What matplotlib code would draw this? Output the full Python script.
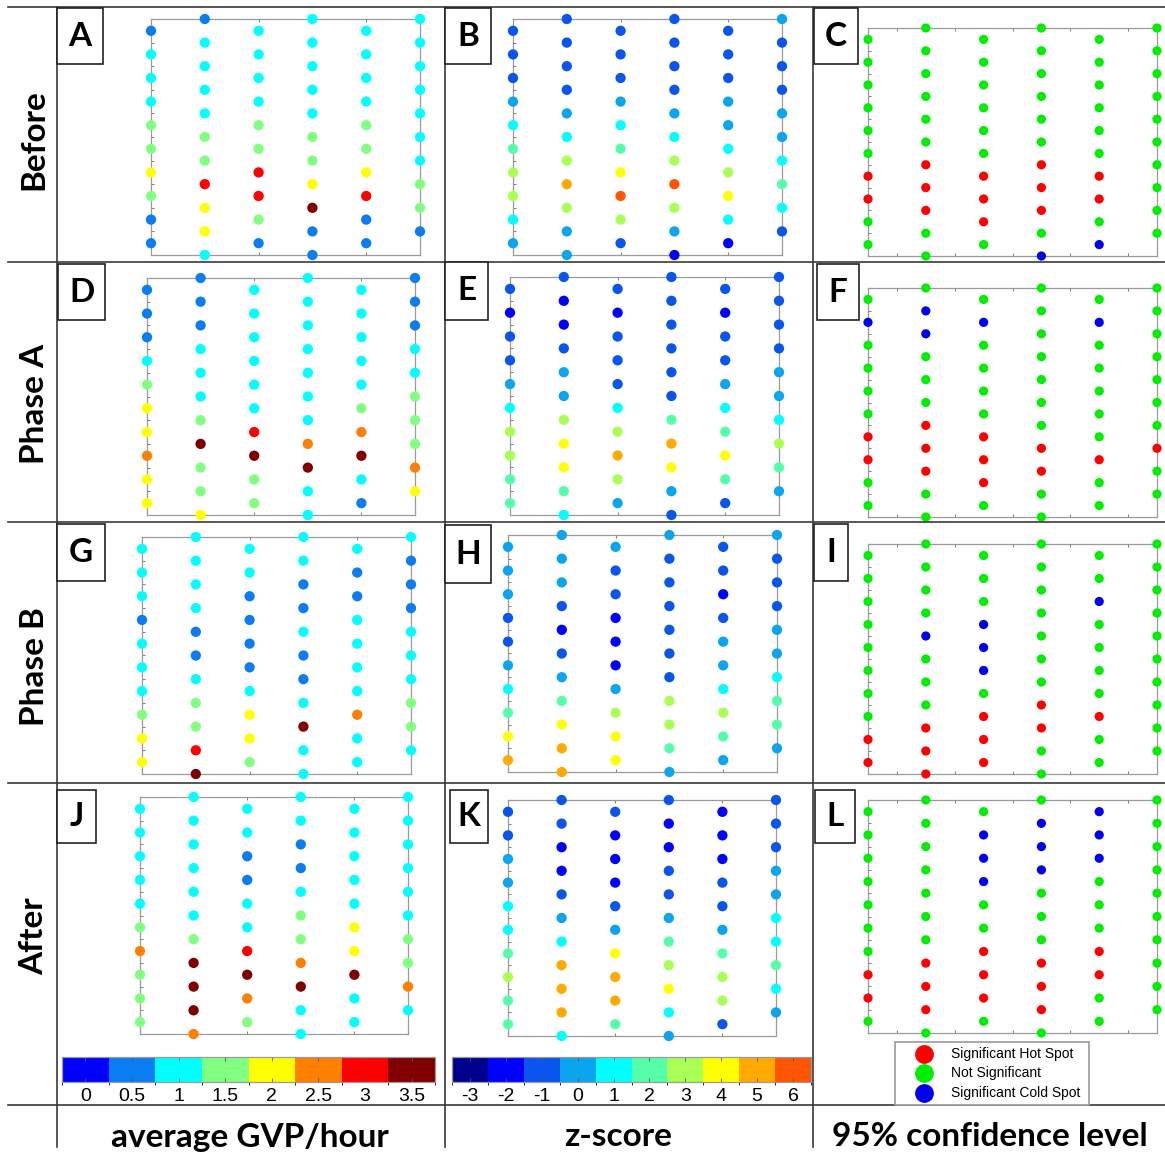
import matplotlib
matplotlib.use("Agg")
import matplotlib.pyplot as plt
import matplotlib.cm as cm
from matplotlib.colors import ListedColormap, BoundaryNorm
from matplotlib.lines import Line2D
from matplotlib.patches import Rectangle
import numpy as np

W, H = 1165, 1164

# --- station values, six transects per panel, listed top to bottom ---
# average GVP/hour
before_gvp = [
    [0.5, 1, 1, 1, 1.5, 1.5, 2, 1.5, 0.5, 0.5],
    [0.5, 1, 1, 1, 1, 1.5, 1.5, 3, 2, 2, 1],
    [1, 1, 1, 1, 1.5, 1.5, 3, 3, 1.5, 0.5],
    [1, 1, 1, 1, 1, 1.5, 1.5, 2, 3.5, 0.5, 0.5],
    [1, 1, 1, 1, 1.5, 1.5, 2, 3, 0.5, 0.5],
    [1, 1, 1, 1, 1, 1, 1, 1.5, 1.5, 0.5],
]
phase_a_gvp = [
    [0.5, 0.5, 0.5, 1, 1.5, 2, 2, 2.5, 2, 2],
    [0.5, 0.5, 0.5, 1, 1, 1, 1.5, 3.5, 1.5, 1.5, 2],
    [1, 1, 1, 1, 1, 1, 3, 3.5, 1.5, 1.5],
    [1, 1, 1, 1, 1, 1, 1, 2.5, 3.5, 1, 1],
    [1, 1, 1, 1, 1, 1.5, 2.5, 3.5, 1, 0.5],
    [0.5, 0.5, 0.5, 1, 1, 1.5, 1.5, 1.5, 2.5, 2],
]
phase_b_gvp = [
    [1, 1, 1, 0.5, 1, 1, 1, 1.5, 2, 2],
    [1, 1, 1, 1, 0.5, 0.5, 1, 1.5, 1.5, 3, 3.5],
    [1, 1, 0.5, 0.5, 0.5, 0.5, 1, 2, 2, 1.5],
    [1, 1, 0.5, 0.5, 1, 0.5, 0.5, 1, 3.5, 1, 1],
    [1, 0.5, 0.5, 1, 1, 1, 1, 2.5, 1, 1],
    [1, 0.5, 0.5, 0.5, 1, 1, 1, 1.5, 1.5, 1],
]
after_gvp = [
    [1, 1, 1, 1, 1, 1.5, 2.5, 1.5, 1.5, 1.5],
    [1, 1, 1, 1, 1, 1, 1.5, 3.5, 3.5, 3.5, 2.5],
    [1, 1, 0.5, 0.5, 1, 1, 3, 3.5, 2.5, 1.5],
    [1, 1, 0.5, 0.5, 1, 1.5, 1.5, 2.5, 3.5, 1, 1],
    [1, 1, 1, 1, 1, 2, 2, 3.5, 1, 1],
    [1, 1, 1, 1, 1, 1, 1.5, 1.5, 2.5, 1],
]

# z-score
before_z = [
    [-1, -1, -1, 0, 1, 2, 3, 3, 1, 0],
    [-1, -1, -1, -1, 0, 1, 3, 5, 3, 0, 0],
    [-1, -1, -1, 0, 1, 2, 4, 6, 3, -1],
    [-1, -1, -1, -1, 0, 1, 3, 6, 3, 0, -2],
    [-1, -1, -1, 0, 0, 1, 3, 4, 1, -2],
    [0, -1, -1, -1, 0, 0, 1, 2, 1, -1],
]
phase_a_z = [
    [-1, -2, -1, -1, 0, 1, 3, 3, 2, 2],
    [-1, -2, -2, -1, 0, 0, 3, 4, 4, 2, 1],
    [-1, -2, -1, -1, -1, 1, 3, 5, 3, 0],
    [-1, -1, -1, -1, -1, -1, 2, 5, 4, 0, -1],
    [-1, -2, -1, -1, 0, 1, 2, 4, 2, -1],
    [-1, -1, -1, -1, 0, 0, 1, 3, 2, 0],
]
phase_b_z = [
    [0, 0, 0, -1, -1, 0, 1, 2, 4, 5],
    [0, 0, 0, -1, -2, -1, 0, 2, 4, 5, 5],
    [0, -1, -1, -2, -2, -2, 0, 3, 4, 4],
    [0, -1, -1, -1, -1, -1, -1, 3, 3, 2, 0],
    [-1, -1, -2, -1, 0, 0, 1, 3, 2, 0],
    [0, -1, -1, -1, 0, 0, 1, 2, 2, 0],
]
after_z = [
    [-1, -1, 0, 0, 1, 1, 2, 3, 2, 2],
    [-1, -1, -2, -2, -1, 0, 1, 5, 5, 5, 1],
    [-1, -2, -2, -2, -1, 0, 4, 5, 5, 2],
    [-1, -2, -2, -1, -1, 0, 2, 3, 4, 1, 0],
    [-2, -2, -2, -1, -1, 0, 2, 3, 3, -1],
    [-1, -1, -1, 0, 0, 1, 1, 2, 1, 0],
]

# hot spot class at 95% confidence: 1 hot, 0 not significant, -1 cold
before_conf = [
    [0, 0, 0, 0, 0, 0, 1, 1, 0, 0],
    [0, 0, 0, 0, 0, 0, 1, 1, 1, 0, 0],
    [0, 0, 0, 0, 0, 0, 1, 1, 1, 0],
    [0, 0, 0, 0, 0, 0, 1, 1, 1, 0, -1],
    [0, 0, 0, 0, 0, 0, 1, 1, 0, -1],
    [0, 0, 0, 0, 0, 0, 0, 0, 0, 0],
]
phase_a_conf = [
    [0, -1, 0, 0, 0, 0, 1, 1, 0, 0],
    [0, -1, -1, 0, 0, 0, 1, 1, 1, 0, 0],
    [0, -1, 0, 0, 0, 0, 1, 1, 1, 0],
    [0, 0, 0, 0, 0, 0, 0, 1, 1, 0, 0],
    [0, -1, 0, 0, 0, 0, 0, 1, 0, 0],
    [0, 0, 0, 0, 0, 0, 0, 1, 0, 0],
]
phase_b_conf = [
    [0, 0, 0, 0, 0, 0, 0, 0, 1, 1],
    [0, 0, 0, 0, -1, 0, 0, 0, 1, 1, 1],
    [0, 0, 0, -1, -1, -1, 0, 1, 1, 1],
    [0, 0, 0, 0, 0, 0, 0, 1, 1, 0, 0],
    [0, 0, -1, 0, 0, 0, 0, 1, 0, 0],
    [0, 0, 0, 0, 0, 0, 0, 0, 0, 0],
]
after_conf = [
    [0, 0, 0, 0, 0, 0, 0, 1, 1, 0],
    [0, 0, 0, 0, 0, 0, 0, 1, 1, 1, 0],
    [0, -1, -1, -1, 0, 0, 1, 1, 1, 0],
    [0, -1, -1, -1, 0, 0, 0, 1, 1, 1, 0],
    [-1, -1, -1, 0, 0, 0, 1, 1, 0, 0],
    [0, 0, 0, 0, 0, 0, 0, 0, 0, 0],
]

row_names = ["Before", "Phase A", "Phase B", "After"]
col_names = ["average GVP/hour", "z-score", "95% confidence level"]
gvp_ticks = [0, 0.5, 1, 1.5, 2, 2.5, 3, 3.5]
z_ticks = [-3, -2, -1, 0, 1, 2, 3, 4, 5, 6]
conf_labels = ["Significant Hot Spot", "Not Significant", "Significant Cold Spot"]

GVP_COLORS = ["#0000ff", "#0a7df2", "#00ffff", "#80ff80",
              "#ffff00", "#ff8000", "#ff0000", "#800000"]
Z_COLORS = ["#00008f", "#0000ff", "#0a55ee", "#0aa5ee", "#00ffff",
            "#55ffaa", "#aaff55", "#ffff00", "#ffaa00", "#ff5500"]
CONF_COLORS = ["#0000ee", "#00ee00", "#ff0000"]

gvp_cmap = ListedColormap(GVP_COLORS)
gvp_norm = BoundaryNorm(np.arange(-0.25, 4.0, 0.5), gvp_cmap.N)
z_cmap = ListedColormap(Z_COLORS)
z_norm = BoundaryNorm(np.arange(-3.5, 7.0, 1.0), z_cmap.N)
conf_cmap = ListedColormap(CONF_COLORS)
conf_norm = BoundaryNorm([-1.5, -0.5, 0.5, 1.5], conf_cmap.N)

BOLD = "Lato"
FRAME = "#9a9a9a"
RULE = "#3a3a3a"


def frac(x0, y0, x1, y1):
    """Pixel box (top-left origin) -> figure fraction rect."""
    return [x0 / W, 1 - y1 / H, (x1 - x0) / W, (y1 - y0) / H]


def fx(x):
    return x / W


def fy(y):
    return 1 - y / H


def draw_grid(fig, rect, columns, cmap, norm, size, conf=False):
    ax = fig.add_axes(frac(*rect))
    for i, col in enumerate(columns):
        start = 1 if i % 2 == 0 else 0
        ys = start + 2 * np.arange(len(col))
        ax.scatter(np.full(len(col), i + 1), ys, c=col, cmap=cmap, norm=norm,
                   s=size, linewidths=0, clip_on=False, zorder=3)
    ax.set_xlim(1, 6)
    ax.set_ylim(20, 0)
    for sp in ax.spines.values():
        sp.set_color(FRAME)
        sp.set_linewidth(0.9)
    ax.set_yticks(range(21))
    ax.set_xticks(np.arange(1.5, 6, 1) if conf else [3, 5])
    ax.tick_params(which="both", direction="in", length=2.5, width=0.6,
                   color="#666666", labelleft=False, labelbottom=False,
                   top=True, right=False)
    return ax


def panel_tag(fig, x0, y0, x1, y1, letter):
    fig.add_artist(Rectangle((fx(x0), fy(y1)), (x1 - x0) / W, (y1 - y0) / H,
                             transform=fig.transFigure, facecolor="white",
                             edgecolor="#222222", linewidth=1.2, zorder=5))
    fig.text(fx((x0 + x1) / 2), fy((y0 + y1) / 2), letter, ha="center",
             va="center", fontsize=24, fontweight="bold", family=BOLD, zorder=6)


def rule(fig, x0, y0, x1, y1):
    fig.add_artist(Line2D([fx(x0), fx(x1)], [fy(y0), fy(y1)],
                          transform=fig.transFigure, color=RULE, linewidth=1.2))


fig = plt.figure(figsize=(W / 100, H / 100), dpi=100)

# table rules
for y in (7, 262, 522, 783, 1105):
    rule(fig, 8, y, 1165, y)
for x in (57, 445, 813):
    rule(fig, x, 7, x, 1147)

rows = [
    (before_gvp, before_z, before_conf),
    (phase_a_gvp, phase_a_z, phase_a_conf),
    (phase_b_gvp, phase_b_z, phase_b_conf),
    (after_gvp, after_z, after_conf),
]
gvp_rects = [(151, 19, 420, 255), (147, 278, 415, 515),
             (142, 537, 411, 774), (140, 797, 408, 1034)]
z_rects = [(513, 19, 782, 255), (510, 277, 779, 515),
           (508, 535, 777, 772), (508, 800, 776, 1036)]
conf_rects = [(868, 28, 1157, 256), (868, 288, 1157, 517),
              (868, 544, 1157, 774), (868, 800, 1157, 1033)]

for (gvp, z, conf), rg, rz, rc in zip(rows, gvp_rects, z_rects, conf_rects):
    draw_grid(fig, rg, gvp, gvp_cmap, gvp_norm, 55)
    draw_grid(fig, rz, z, z_cmap, z_norm, 55)
    draw_grid(fig, rc, conf, conf_cmap, conf_norm, 44, conf=True)

tags = [
    (57, 8, 103, 64, "A"), (445, 8, 491, 64, "B"), (814, 8, 858, 64, "C"),
    (58, 264, 105, 320, "D"), (445, 262, 488, 320, "E"), (817, 264, 859, 320, "F"),
    (57, 524, 105, 581, "G"), (445, 525, 491, 583, "H"), (814, 524, 848, 581, "I"),
    (57, 790, 96, 843, "J"), (450, 790, 488, 843, "K"), (815, 790, 855, 843, "L"),
]
for t in tags:
    panel_tag(fig, *t)

for name, yc in zip(row_names, (140, 404, 667, 936)):
    fig.text(fx(34), fy(yc), name, rotation=90, ha="center", va="center",
             fontsize=24, fontweight="bold", family=BOLD)

for name, xc in zip(col_names, (250, 618, 990)):
    fig.text(fx(xc), fy(1137), name, ha="center", va="center",
             fontsize=24, fontweight="bold", family=BOLD)

# colour scales
for rect, cmap, norm, ticks in (((62, 1057, 435, 1082), gvp_cmap, gvp_norm, gvp_ticks),
                                ((452, 1057, 811, 1082), z_cmap, z_norm, z_ticks)):
    cax = fig.add_axes(frac(*rect))
    cb = fig.colorbar(cm.ScalarMappable(norm=norm, cmap=cmap), cax=cax,
                      orientation="horizontal", ticks=ticks)
    cb.ax.set_xticklabels([f"{t:g}" for t in ticks], family="Liberation Sans")
    cb.ax.tick_params(direction="in", length=3, width=0.6, labelsize=14,
                      pad=4, color="#555555", top=True)
    cb.outline.set_edgecolor(FRAME)
    cb.outline.set_linewidth(0.9)

# legend for the hot spot classes
fig.add_artist(Rectangle((fx(895), fy(1105)), 194 / W, 63 / H,
                         transform=fig.transFigure, facecolor="white",
                         edgecolor=FRAME, linewidth=1.2, zorder=4))
for label, color, yc in zip(conf_labels, ("#ff0000", "#00ee00", "#0000ee"),
                            (1054, 1073, 1093)):
    fig.add_artist(Line2D([fx(924)], [fy(yc)], marker="o", markersize=12.5,
                          linestyle="", color=color, transform=fig.transFigure,
                          zorder=5))
    fig.text(fx(951), fy(yc), label, ha="left", va="center", fontsize=10,
             family="Liberation Sans", zorder=5)

fig.savefig("out.png", dpi=100)
